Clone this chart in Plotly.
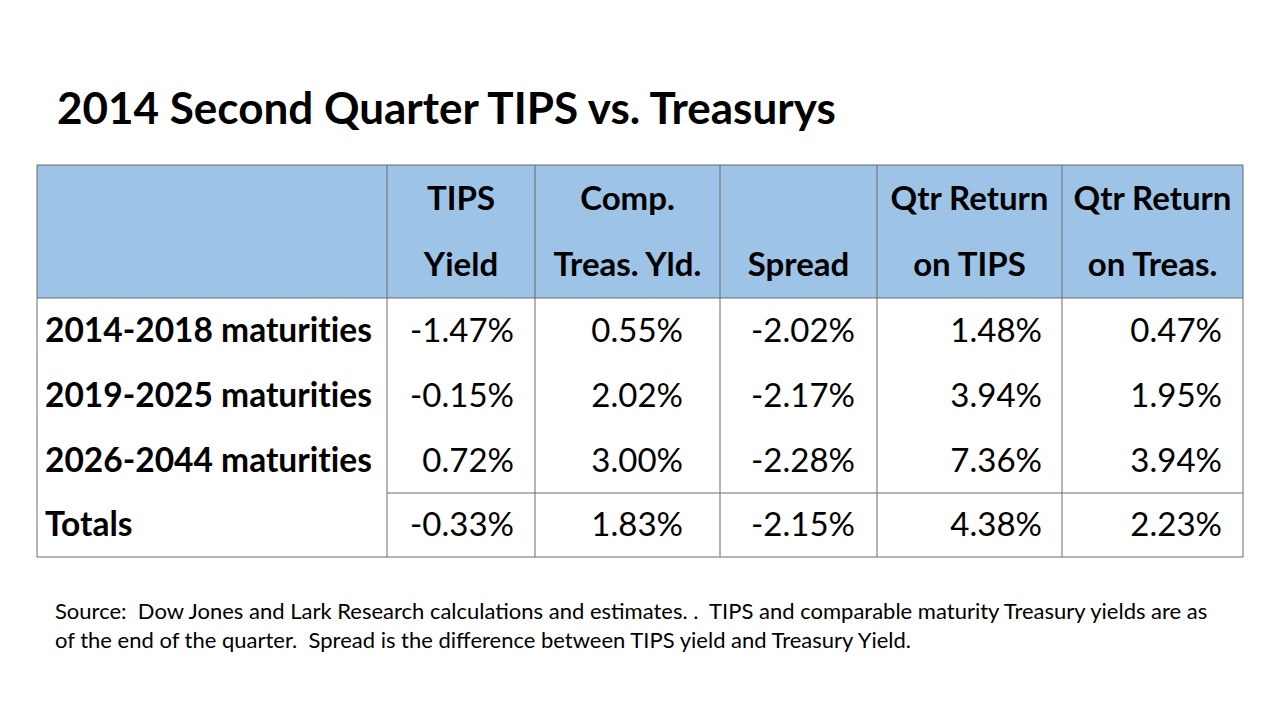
import plotly.graph_objects as go

title = "2014 Second Quarter TIPS vs. Treasurys"
row_labels = ["2014-2018 maturities", "2019-2025 maturities", "2026-2044 maturities", "Totals"]
header_top = ["TIPS", "Comp.", "", "Qtr Return", "Qtr Return"]
header_bottom = ["Yield", "Treas. Yld.", "Spread", "on TIPS", "on Treas."]
tips_yield = [-1.47, -0.15, 0.72, -0.33]
comp_treas_yld = [0.55, 2.02, 3.00, 1.83]
spread = [-2.02, -2.17, -2.28, -2.15]
qtr_return_tips = [1.48, 3.94, 7.36, 4.38]
qtr_return_treas = [0.47, 1.95, 3.94, 2.23]
source_lines = [
    "Source:\u00a0\u00a0Dow Jones and Lark Research calculations and estimates. .\u00a0\u00a0TIPS and comparable maturity Treasury yields are as",
    "of the end of the quarter.\u00a0\u00a0Spread is the difference between TIPS yield and Treasury Yield.",
]

# layout geometry (pixel-like coordinate system)
col_edges = [37, 387, 535, 720, 877, 1062, 1243]
row_edges = [165, 298, 363, 428, 493, 557]
right_pad = [21, 37, 22, 20, 21]
FONT = "Lato"
LINE = "#6b6b6b"
FILL = "#9dc3e6"
TEXT_DY = 3  # small vertical nudge for text baseline


def no_lig(s):
    # avoid the "ti" ligature so the letters look like the original
    return s.replace("ti", "t\u200ci")


fig = go.Figure()

shapes = []
shapes.append(dict(type="rect", xref="x", yref="y", x0=col_edges[0], x1=col_edges[-1],
                   y0=row_edges[0], y1=row_edges[1], fillcolor=FILL, line=dict(width=0), layer="below"))
shapes.append(dict(type="rect", xref="x", yref="y", x0=col_edges[0], x1=col_edges[-1],
                   y0=row_edges[0], y1=row_edges[-1], line=dict(color=LINE, width=1)))
for xe in col_edges[1:-1]:
    shapes.append(dict(type="line", xref="x", yref="y", x0=xe, x1=xe, y0=row_edges[0], y1=row_edges[-1],
                       line=dict(color=LINE, width=1)))
shapes.append(dict(type="line", xref="x", yref="y", x0=col_edges[0], x1=col_edges[-1],
                   y0=row_edges[1], y1=row_edges[1], line=dict(color=LINE, width=1)))
shapes.append(dict(type="line", xref="x", yref="y", x0=col_edges[1], x1=col_edges[-1],
                   y0=row_edges[4], y1=row_edges[4], line=dict(color=LINE, width=1)))

centers = [(col_edges[i] + col_edges[i + 1]) / 2 for i in range(1, 6)]
hdr_top_y = 199 + TEXT_DY
hdr_bot_y = 265 + TEXT_DY

for ys, labels in ((hdr_top_y, header_top), (hdr_bot_y, header_bottom)):
    fig.add_trace(go.Scatter(x=centers, y=[ys] * 5, text=labels, mode="text",
                             textposition="middle center",
                             textfont=dict(family=FONT, size=33, color="black", weight="bold"),
                             hoverinfo="skip", showlegend=False))

row_centers = [(row_edges[i] + row_edges[i + 1]) / 2 + TEXT_DY for i in range(1, 5)]
fig.add_trace(go.Scatter(x=[45] * 4, y=row_centers, text=[no_lig(s) for s in row_labels], mode="text",
                         textposition="middle right",
                         textfont=dict(family=FONT, size=33.5, color="black", weight="bold"),
                         hoverinfo="skip", showlegend=False))

series = [tips_yield, comp_treas_yld, spread, qtr_return_tips, qtr_return_treas]
for i, vals in enumerate(series):
    xr = col_edges[i + 2] - right_pad[i]
    fig.add_trace(go.Scatter(x=[xr] * len(vals), y=row_centers,
                             text=[f"{v:.2f}%" for v in vals], mode="text",
                             textposition="middle left",
                             textfont=dict(family=FONT, size=33, color="black"),
                             hoverinfo="skip", showlegend=False))

annotations = [dict(x=55, y=107, xref="x", yref="y", text=title, showarrow=False,
                    xanchor="left", yanchor="middle",
                    font=dict(family=FONT, size=44, color="black", weight="bold"))]
for k, line in enumerate(source_lines):
    annotations.append(dict(x=53, y=610 + 29 * k, xref="x", yref="y", text=line, showarrow=False,
                            xanchor="left", yanchor="middle",
                            font=dict(family=FONT, size=22, color="black")))

fig.update_layout(
    width=1280, height=720, margin=dict(l=0, r=0, t=0, b=0),
    paper_bgcolor="white", plot_bgcolor="white",
    xaxis=dict(range=[0, 1280], visible=False, fixedrange=True),
    yaxis=dict(range=[720, 0], visible=False, fixedrange=True),
    shapes=shapes, annotations=annotations, showlegend=False,
)

fig.write_html("out.html", config={"displayModeBar": False},
               post_script="document.body.style.margin='0';")
